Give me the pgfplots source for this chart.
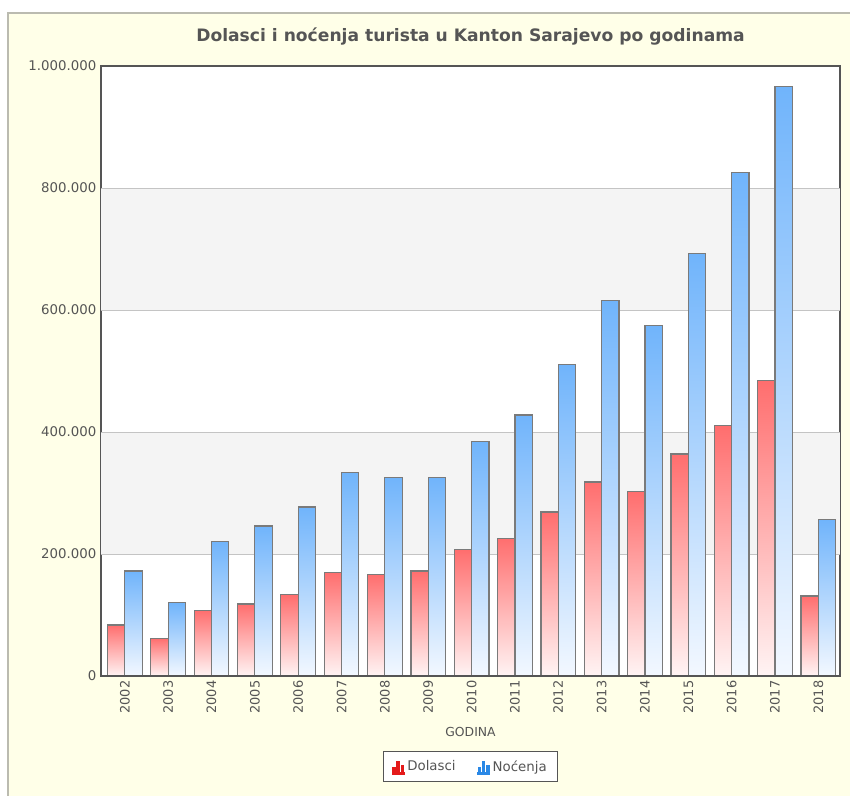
\documentclass[border=0pt]{standalone}
\usepackage{fontspec}
\setmainfont{DejaVu Sans}
\usepackage{pgfplots}
\pgfplotsset{compat=1.18}

\definecolor{panel}{HTML}{FFFFE8}
\definecolor{panelborder}{HTML}{BBBBB0}
\definecolor{band}{HTML}{F4F4F4}
\definecolor{gridc}{HTML}{C4C4C4}
\definecolor{frame}{HTML}{555555}
\definecolor{barline}{HTML}{7A7A7A}
\definecolor{txt}{HTML}{555555}
\definecolor{redtop}{HTML}{FF6E6E}
\definecolor{redbot}{HTML}{FFF4F4}
\definecolor{bluetop}{HTML}{70B4FB}
\definecolor{bluebot}{HTML}{F3F8FF}
\definecolor{iconred}{HTML}{E41A1A}
\definecolor{iconblue}{HTML}{2A88E6}

% one bar per \addplot, so that each bar gets its own gradient
\newcommand{\dbar}[2]{\addplot[ybar, bar width=13pt, bar shift=-6.5pt, draw=barline,
  line width=0.9pt, top color=redtop, bottom color=redbot, forget plot]
  coordinates {(#1,#2)};}
\newcommand{\nbar}[2]{\addplot[ybar, bar width=13pt, bar shift=6.5pt, draw=barline,
  line width=0.9pt, top color=bluetop, bottom color=bluebot, forget plot]
  coordinates {(#1,#2)};}
% small bar-chart icon for the legend
\newcommand{\icon}[1]{%
    \fill[#1] (0pt,-4.5pt) rectangle (2pt,-0.5pt);
    \fill[#1] (3.2pt,-4.5pt) rectangle (5.2pt,1.5pt);
    \fill[#1] (3.2pt,2.6pt) rectangle (5.2pt,4.4pt);
    \fill[#1] (6.4pt,-4.5pt) rectangle (8.4pt,-2pt);
    \fill[#1] (6.4pt,-0.9pt) rectangle (8.4pt,0.8pt);
    \fill[#1] (-0.4pt,-5.3pt) rectangle (8.8pt,-4.5pt);}

\begin{document}
\begin{tikzpicture}[x=1pt,y=1pt]
% 1 px = 0.75 pt; axis lower-left corner at (0,0)
\path[use as bounding box] (-75.75,-90) rectangle (561.75,507);
\fill[white] (-75.75,-90) rectangle (561.75,507);
\filldraw[fill=panel, draw=panelborder, line width=0.8pt] (-69.75,-100) rectangle (575,497.25);

\begin{axis}[
  at={(0,0)}, anchor=south west,
  scale only axis,
  width=554.25pt, height=457.5pt,
  xmin=-0.55, xmax=16.5,
  ymin=0, ymax=1000000,
  axis background/.style={fill=white},
  axis line style={frame, line width=1.2pt},
  major tick length=0pt,
  xtick={0,...,16},
  xticklabels={2002,2003,2004,2005,2006,2007,2008,2009,2010,2011,2012,2013,2014,2015,2016,2017,2018},
  xticklabel style={rotate=90, anchor=east, font=\fontsize{9.7}{11}\selectfont, text=txt},
  ytick={0,200000,400000,600000,800000,1000000},
  yticklabels={0,200.000,400.000,600.000,800.000,1.000.000},
  scaled y ticks=false,
  yticklabel style={font=\fontsize{10}{11}\selectfont, text=txt},
  title={Dolasci i noćenja turista u Kanton Sarajevo po godinama},
  title style={at={(0.5,1)}, anchor=center, yshift=15.75pt,
    font=\bfseries\fontsize{12.85}{15}\selectfont, text=frame},
  xlabel={GODINA},
  xlabel style={at={(axis description cs:0.5,-0.0918)}, anchor=center,
    font=\fontsize{9.3}{11}\selectfont, text=txt},
  legend style={at={(axis description cs:0.5,-0.149)}, anchor=center,
    legend columns=2, draw=frame, fill=white, line width=0.6pt,
    font=\fontsize{10}{12}\selectfont, text=txt,
    /tikz/every even column/.append style={column sep=14pt},
    inner xsep=6pt, inner ysep=4.5pt},
]
% background bands and grid lines
\fill[band] (axis cs:-0.55,200000) rectangle (axis cs:16.5,400000);
\fill[band] (axis cs:-0.55,600000) rectangle (axis cs:16.5,800000);
\draw[gridc, line width=0.6pt] (axis cs:-0.55,200000) -- (axis cs:16.5,200000);
\draw[gridc, line width=0.6pt] (axis cs:-0.55,400000) -- (axis cs:16.5,400000);
\draw[gridc, line width=0.6pt] (axis cs:-0.55,600000) -- (axis cs:16.5,600000);
\draw[gridc, line width=0.6pt] (axis cs:-0.55,800000) -- (axis cs:16.5,800000);

% Dolasci
\dbar{0}{83600}  \dbar{1}{62000}  \dbar{2}{108000} \dbar{3}{118000}
\dbar{4}{133000} \dbar{5}{170000} \dbar{6}{167000} \dbar{7}{172000}
\dbar{8}{207000} \dbar{9}{226000} \dbar{10}{269000} \dbar{11}{318000}
\dbar{12}{302000} \dbar{13}{364000} \dbar{14}{410000} \dbar{15}{484000}
\dbar{16}{131000}
% Nocenja
\nbar{0}{172000} \nbar{1}{120000} \nbar{2}{221000} \nbar{3}{246000}
\nbar{4}{277000} \nbar{5}{334000} \nbar{6}{326000} \nbar{7}{326000}
\nbar{8}{385000} \nbar{9}{428000} \nbar{10}{511000} \nbar{11}{616000}
\nbar{12}{575000} \nbar{13}{693000} \nbar{14}{826000} \nbar{15}{966000}
\nbar{16}{256000}

\addlegendimage{legend image code/.code={\icon{iconred}}}
\addlegendentry{Dolasci}
\addlegendimage{legend image code/.code={\icon{iconblue}}}
\addlegendentry{Noćenja}

\draw[frame, line width=2pt] (axis cs:-0.55,0) -- (axis cs:16.5,0);
\end{axis}
\end{tikzpicture}
\end{document}
